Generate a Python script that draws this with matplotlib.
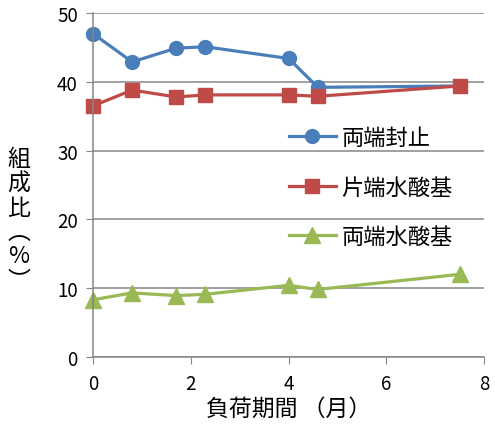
import matplotlib.pyplot as plt

plt.rcParams['font.family'] = ['Noto Sans CJK JP', 'DejaVu Sans']

months = [0, 0.8, 1.7, 2.3, 4.0, 4.6, 7.5]
ryotan_fusi = [47.0, 42.9, 44.9, 45.1, 43.4, 39.2, 39.4]
katatan_oh = [36.5, 38.8, 37.8, 38.1, 38.1, 37.9, 39.4]
ryotan_oh = [8.3, 9.3, 8.9, 9.1, 10.4, 9.8, 12.0]

labels = ['両端封止', '片端水酸基', '両端水酸基']
colors = ['#4A7EBB', '#BE4B48', '#98B954']

fig = plt.figure(figsize=(4.95, 4.27), dpi=100)
ax = fig.add_axes([0.188, 0.162, 0.79, 0.805])

ax.plot(months, ryotan_fusi, '-o', color=colors[0], lw=2.3, ms=10, label=labels[0])
ax.plot(months, katatan_oh, '-s', color=colors[1], lw=2.3, ms=10, label=labels[1])
ax.plot(months, ryotan_oh, '-^', color=colors[2], lw=2.3, ms=11, label=labels[2])

ax.set_xlim(0, 8)
ax.set_ylim(0, 50)
ax.set_xticks([0, 2, 4, 6, 8])
ax.set_yticks([0, 10, 20, 30, 40, 50])
ax.grid(axis='y', color='#868686', lw=1.1)
ax.set_axisbelow(True)
for s in ['top', 'right']:
    ax.spines[s].set_visible(False)
for s in ['left', 'bottom']:
    ax.spines[s].set_color('#868686')
    ax.spines[s].set_linewidth(1.1)
ax.tick_params(direction='out', length=5, color='#868686', labelsize=13.5)
ax.tick_params(axis='x', pad=7)
ax.tick_params(axis='y', pad=6)
for l in ax.lines:
    l.set_clip_on(False)

ax.set_xlabel('負荷期間 （月）', fontsize=16.5, labelpad=2)
ax.set_ylabel('組\n成\n比\n︵\n%\n︶', fontsize=16.5, rotation=0, linespacing=1.08,
              va='center', ha='center')
ax.yaxis.set_label_coords(-0.19, 0.40)

ax.legend(loc='upper left', bbox_to_anchor=(0.45, 0.73), frameon=False,
          fontsize=16, handlelength=2.1, labelspacing=1.2, handletextpad=0.25)

plt.savefig('out.png', dpi=100)
